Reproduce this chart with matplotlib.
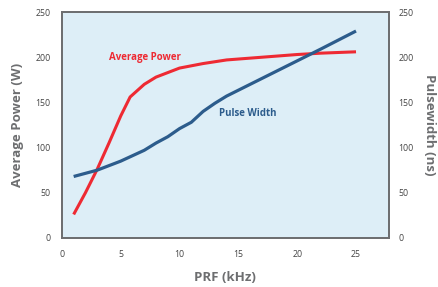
import matplotlib.pyplot as plt

# PRF (kHz) vs average power (W) and pulse width (ns)
prf_power = [1, 2, 3, 4, 5, 5.8, 7, 8, 9, 10, 12, 14, 16, 18, 20, 22, 25]
avg_power = [26, 50, 76, 105, 135, 156, 170, 178, 183, 188, 193, 197, 199, 201, 203, 204.5, 206]

prf_width = [1, 3, 5, 7, 8, 9, 10, 11, 12, 13, 14, 16, 18, 20, 22, 25]
pulse_width = [68, 75, 85, 97, 105, 112, 121, 128, 140, 149, 157, 170, 183, 196, 209, 229]

ticks = [0, 50, 100, 150, 200, 250]
xticks = [0, 5, 10, 15, 20, 25]

RED = "#ee2a33"
BLUE = "#2c5c8c"
GREY = "#6d6e70"

plt.rcParams["font.family"] = ["Open Sans", "DejaVu Sans"]

fig = plt.figure(figsize=(4.39, 2.87), dpi=100)
ax = fig.add_axes([0.141, 0.171, 0.745, 0.787])
ax.set_facecolor("#ddeef7")

ax.plot(prf_power, avg_power, color=RED, linewidth=2.2, solid_capstyle="butt")
ax.plot(prf_width, pulse_width, color=BLUE, linewidth=2.3, solid_capstyle="butt")

ax.text(7.1, 200, "Average Power", color=RED, fontsize=7, fontweight="bold",
        ha="center", va="center")
ax.text(15.8, 138, "Pulse Width", color=BLUE, fontsize=7, fontweight="bold",
        ha="center", va="center")

ax.set_xlim(0, 27.8)
ax.set_ylim(0, 250)
ax.set_xticks(xticks)
ax.set_yticks(ticks)
ax.tick_params(length=0, labelsize=6.3, labelcolor="#444444")
ax.tick_params(axis="y", pad=8)
ax.tick_params(axis="x", pad=9)
for s in ax.spines.values():
    s.set_color(GREY)
    s.set_linewidth(1.3)

ax2 = ax.twinx()
ax2.set_ylim(0, 250)
ax2.set_yticks(ticks)
ax2.tick_params(length=0, labelsize=6.3, labelcolor="#444444", pad=7)
for s in ax2.spines.values():
    s.set_color(GREY)
    s.set_linewidth(1.3)

ax.set_xlabel("PRF (kHz)", fontsize=9.5, fontweight="bold", color=GREY, labelpad=8)
ax.set_ylabel("Average Power (W)", fontsize=9.5, fontweight="bold", color=GREY, labelpad=8)
ax2.set_ylabel("Pulsewidth (ns)", fontsize=9.5, fontweight="bold", color=GREY,
               rotation=270, labelpad=16)

fig.savefig("out.png", dpi=100)
